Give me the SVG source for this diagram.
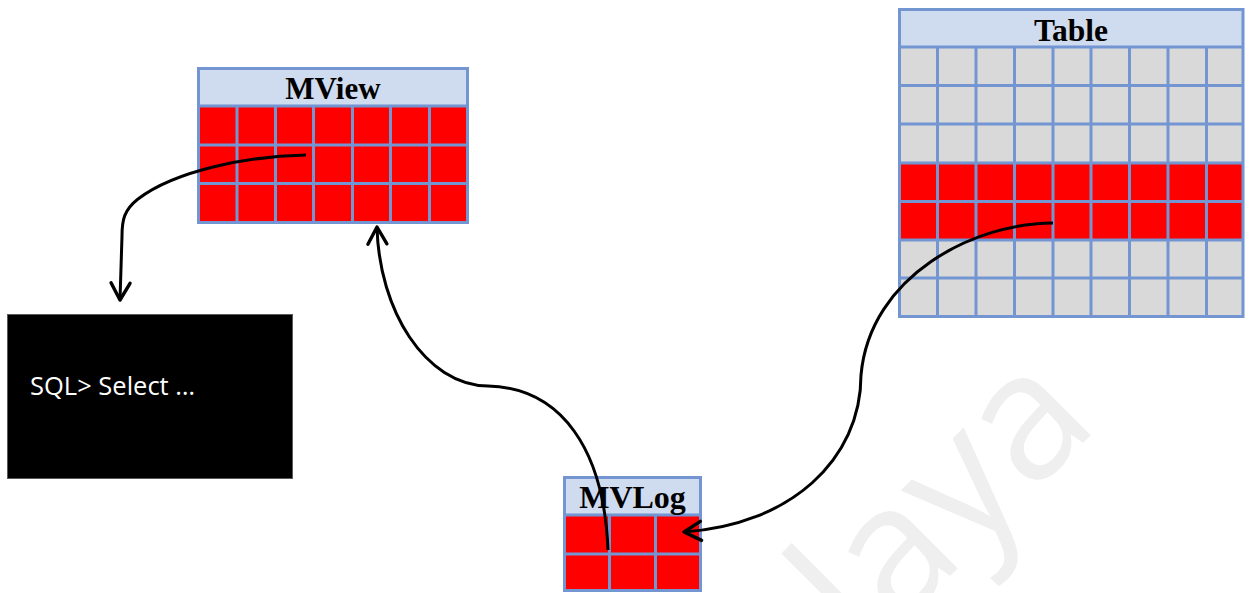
<svg xmlns="http://www.w3.org/2000/svg" width="1249" height="593" viewBox="0 0 1249 593">
  <style>
    .head { fill: #CFDBEE; }
    .red { fill: #FF0000; }
    .gray { fill: #D9D9D9; }
    .grid { fill: none; stroke: #7396D3; stroke-width: 3; }
    .title { font-family: "Liberation Serif", "Times New Roman", serif; font-weight: bold; fill: #000; text-anchor: middle; }
    .conn { fill: none; stroke: #000; stroke-width: 3; stroke-linecap: butt; }
    .mark { font-family: "Open Sans", "Noto Sans", sans-serif; fill: #EFEFEF; }
  </style>
  <defs>
    <marker id="arrow" markerUnits="userSpaceOnUse" viewBox="-22 -14 26 28" refX="0" refY="0" markerWidth="26" markerHeight="28" orient="auto">
      <path d="M-17,-9.5 L0,0 L-17,9.5" fill="none" stroke="#000" stroke-width="3.4" stroke-linecap="round" stroke-linejoin="round"/>
    </marker>
  </defs>

  <rect width="1249" height="593" fill="#FFFFFF"/>

  <!-- background watermark -->
  <text class="mark" transform="rotate(-45)" x="146" y="1079" font-size="178">laya</text>

  <!-- MView: header + 3 red rows x 7 columns -->
  <g id="mview">
    <rect class="head" x="198" y="68" width="270" height="38"/>
    <rect class="red" x="198" y="106" width="270" height="117"/>
    <path class="grid" d="M198.5,68.5 H467.5 V222.5 H198.5 Z M198.5,106 H467.5 M198.5,145 H467.5 M198.5,183.5 H467.5 M237,106 V222.5 M275.5,106 V222.5 M313.5,106 V222.5 M352.5,106 V222.5 M390.5,106 V222.5 M429.5,106 V222.5"/>
    <text class="title" x="333" y="99" font-size="31">MView</text>
  </g>

  <!-- Table: header + 7 rows x 9 columns, rows 4-5 highlighted -->
  <g id="table">
    <rect class="head" x="899" y="9" width="345" height="38"/>
    <rect class="gray" x="899" y="47" width="345" height="270"/>
    <rect class="red" x="899" y="163.5" width="345" height="77"/>
    <path class="grid" d="M899.5,9.5 H1243 V316.5 H899.5 Z M899.5,47 H1243 M899.5,85.5 H1243 M899.5,124 H1243 M899.5,163 H1243 M899.5,201.5 H1243 M899.5,240 H1243 M899.5,278 H1243 M937.5,47 V316.5 M976,47 V316.5 M1014.5,47 V316.5 M1053,47 V316.5 M1091,47 V316.5 M1129.5,47 V316.5 M1168,47 V316.5 M1206.5,47 V316.5"/>
    <text class="title" x="1071" y="40.5" font-size="31.5">Table</text>
  </g>

  <!-- MVLog: header + 2 red rows x 3 columns -->
  <g id="mvlog">
    <rect class="head" x="564" y="477" width="137" height="38"/>
    <rect class="red" x="564" y="515" width="137" height="76"/>
    <path class="grid" d="M564.5,477.5 H700.5 V590.5 H564.5 Z M564.5,515 H700.5 M564.5,554 H700.5 M609.5,515 V590.5 M655.5,515 V590.5"/>
    <text class="title" x="632.5" y="507.5" font-size="32">MVLog</text>
  </g>

  <!-- SQL console -->
  <g id="sql">
    <rect x="7.5" y="314.5" width="285" height="164" fill="#000000" stroke="#595959" stroke-width="1"/>
    <text x="30" y="395" font-family="Open Sans, Noto Sans, sans-serif" font-size="25.5" fill="#FFFFFF">SQL&gt; Select …</text>
  </g>

  <!-- connectors -->
  <g id="connectors">
    <path class="conn" marker-end="url(#arrow)" d="M306,155 C250,156 176,170 138,199 C124,210 122,220 122,236 L120,300"/>
    <path class="conn" marker-end="url(#arrow)" d="M608,550 C604,450 562,388 488,386 C425,385 379,310 377,227"/>
    <path class="conn" marker-end="url(#arrow)" d="M1053,223 C975,223 870,275 861,375 C861,460 790,525 684,532"/>
  </g>
</svg>
